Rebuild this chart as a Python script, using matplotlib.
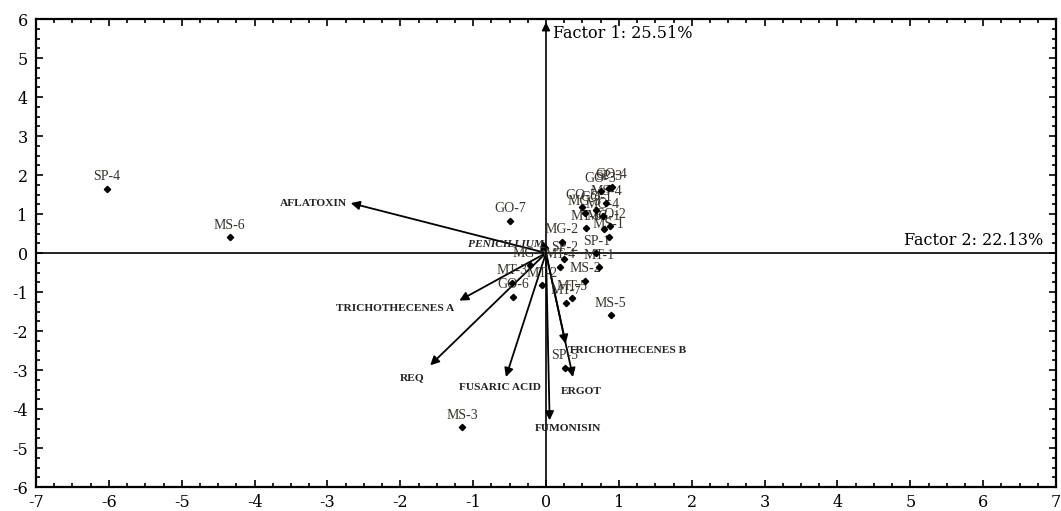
import matplotlib
matplotlib.use("Agg")
import matplotlib.pyplot as plt
from matplotlib.ticker import MultipleLocator

plt.rcParams["axes.unicode_minus"] = False

# sample scores (factor 2 on x, factor 1 on y)
sample_names = ["SP-4", "MS-6", "GO-7", "MS-3", "MS-5", "SP-5", "GO-6",
                "SP-3", "GO-3", "GO-4", "MS-4", "GO-1", "GO-5", "MG-3",
                "MG-4", "MT-6", "GO-2", "MG-1", "MS-1", "MG-2", "SP-1",
                "SP-2", "MT-4", "MT-1", "MS-2", "MG-5", "MT-3", "MT-2",
                "MT-5", "MT-7"]
sample_x = [-6.03, -4.34, -0.49, -1.15, 0.89, 0.26, -0.45,
            0.86, 0.75, 0.90, 0.83, 0.69, 0.49, 0.53,
            0.78, 0.55, 0.88, 0.79, 0.86, 0.22, 0.69,
            0.25, 0.19, 0.73, 0.54, -0.22, -0.47, -0.05,
            0.36, 0.27]
sample_y = [1.65, 0.41, 0.83, -4.47, -1.60, -2.94, -1.12,
            1.66, 1.60, 1.70, 1.28, 1.11, 1.17, 1.02,
            0.94, 0.64, 0.68, 0.62, 0.42, 0.29, -0.01,
            -0.16, -0.35, -0.36, -0.71, -0.32, -0.76, -0.83,
            -1.16, -1.28]

# loading vectors
vector_names = ["AFLATOXIN", "PENICILLIUM", "TRICHOTHECENES A", "REQ",
                "FUSARIC ACID", "TRICHOTHECENES B", "ERGOT", "FUMONISIN"]
vector_x = [-2.68, -0.05, -1.19, -1.59, -0.55, 0.27, 0.37, 0.05]
vector_y = [1.28, 0.32, -1.22, -2.88, -3.18, -2.33, -3.18, -4.29]

# label placement for each vector (offset in pixels from the tip, alignment)
vector_label_offset = [(-4, 0, "right"), (-36, -4, "center"), (-64, -8, "center"),
                       (-18, -12, "center"), (-6, -10, "center"), (2, -7, "left"),
                       (8, -14, "center"), (18, -8, "center")]

factor1_label = "Factor 1: 25.51%"
factor2_label = "Factor 2: 22.13%"

fig = plt.figure(figsize=(10.61, 5.11), dpi=100)
ax = fig.add_axes([36 / 1061, 1 - 487 / 511, 1020 / 1061, 468 / 511])

ax.set_xlim(-7, 7)
ax.set_ylim(-6, 6)
ax.xaxis.set_major_locator(MultipleLocator(1))
ax.yaxis.set_major_locator(MultipleLocator(1))
ax.xaxis.set_minor_locator(MultipleLocator(0.25))
ax.yaxis.set_minor_locator(MultipleLocator(0.25))
ax.tick_params(which="both", direction="in", top=True, right=True, width=1.2)
ax.tick_params(which="major", length=5)
ax.tick_params(which="minor", length=3)
ax.tick_params(axis="x", pad=5)
ax.tick_params(axis="y", pad=6)
for lab in ax.get_xticklabels() + ax.get_yticklabels():
    lab.set_fontfamily("DejaVu Serif")
    lab.set_fontsize(11.5)
for s in ax.spines.values():
    s.set_linewidth(1.6)

# axis lines through origin
ax.plot([-7, 7], [0, 0], color="black", lw=1.2, zorder=2)
ax.annotate("", xy=(0, 5.92), xytext=(0, -6),
            arrowprops=dict(arrowstyle="-|>", color="black", lw=1.2,
                            mutation_scale=12, shrinkA=0, shrinkB=0))
ax.text(0.09, 5.62, factor1_label, fontfamily="DejaVu Serif", fontsize=11.5,
        va="center", ha="left")
ax.text(4.92, 0.32, factor2_label, fontfamily="DejaVu Serif", fontsize=11.5,
        va="center", ha="left")

# loading vectors
for name, vx, vy, (dx, dy, ha) in zip(vector_names, vector_x, vector_y, vector_label_offset):
    ax.annotate("", xy=(vx, vy), xytext=(0, 0),
                arrowprops=dict(arrowstyle="-|>", color="black", lw=1.3,
                                mutation_scale=13, shrinkA=0, shrinkB=0))
    style = "italic" if name == "PENICILLIUM" else "normal"
    ax.annotate(name, xy=(vx, vy), xytext=(dx * 0.72, dy * 0.72),
                textcoords="offset points", ha=ha, va="center",
                fontfamily="Liberation Serif", fontweight="bold",
                fontstyle=style, fontsize=8.2, color="#222222")

# sample scores
ax.plot(sample_x, sample_y, linestyle="none", marker="D", markersize=3.2,
        color="black", zorder=4)
for name, sx, sy in zip(sample_names, sample_x, sample_y):
    ax.annotate(name, xy=(sx, sy), xytext=(0, 8.6), textcoords="offset points",
                ha="center", va="center", fontfamily="Liberation Serif",
                fontsize=10, color="#3a3428")

fig.savefig("out.png", dpi=100)
